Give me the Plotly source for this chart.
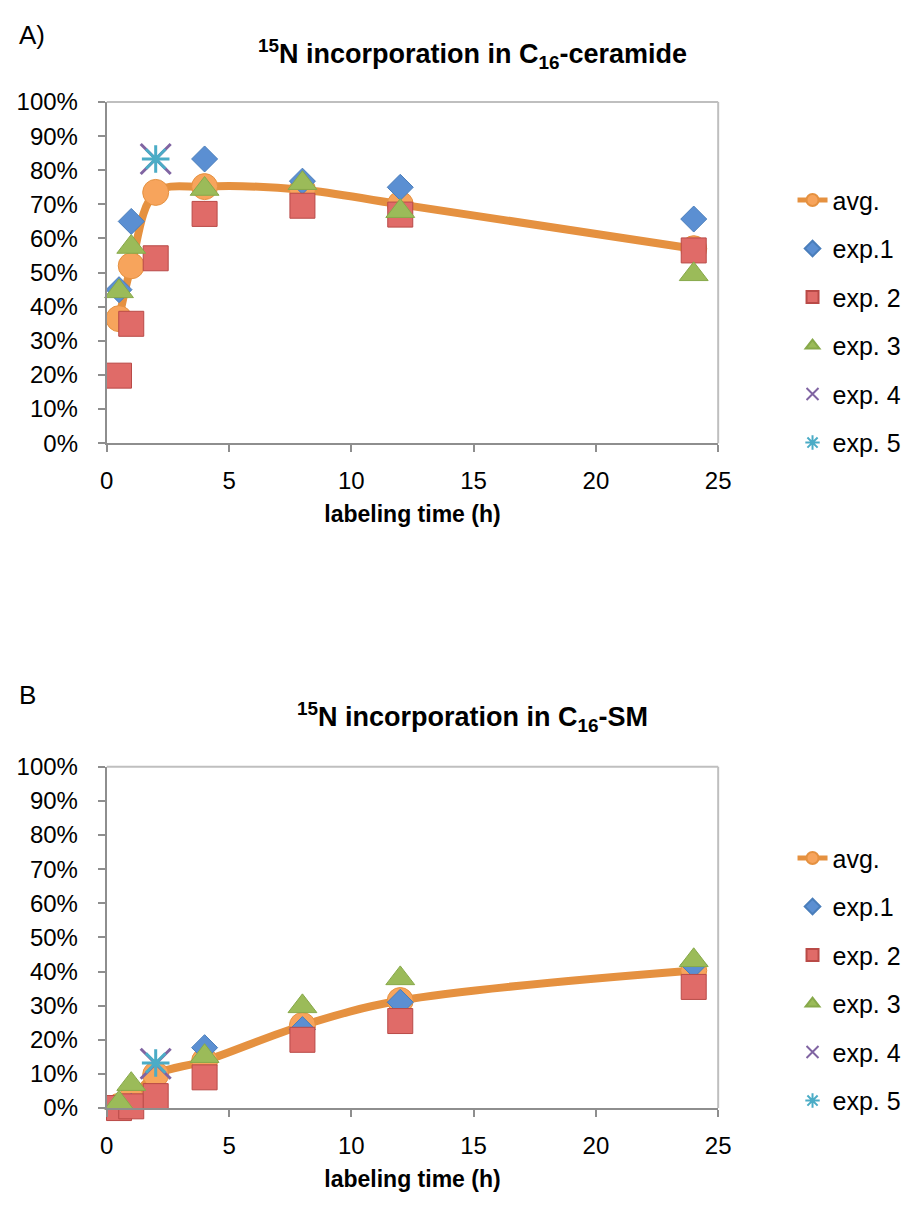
import plotly.graph_objects as go

# ---------------- data ----------------
time_h = [0.5, 1, 2, 4, 8, 12, 24]

cer_avg  = [36.5, 52.0, 73.5, 75.2, 74.3, 70.0, 57.0]
cer_exp1 = [45.0, 65.0, None, 83.3, 76.8, 75.0, 65.7]
cer_exp2 = [19.8, 35.0, 54.2, 67.2, 69.6, 67.0, 56.5]
cer_exp3 = [44.5, 57.5, None, 74.5, 76.2, 68.0, 49.5]
cer_exp4 = [None, None, 83.3, None, None, None, None]
cer_exp5 = [None, None, 83.3, None, None, None, None]

sm_avg  = [0.5, 2.6, 9.8, 13.8, 24.2, 31.5, 40.3]
sm_exp1 = [0.3, 0.5, None, 17.7, 23.0, 31.0, 42.0]
sm_exp2 = [0.0, 0.5, 3.5, 9.0, 20.0, 25.5, 35.5]
sm_exp3 = [1.5, 7.0, None, 15.2, 29.8, 38.0, 43.3]
sm_exp4 = [None, None, 13.0, None, None, None, None]
sm_exp5 = [None, None, 13.2, None, None, None, None]

series_names = ["avg.", "exp.1", "exp. 2", "exp. 3", "exp. 4", "exp. 5"]
x_ticks = [0, 5, 10, 15, 20, 25]
y_ticks = [0, 10, 20, 30, 40, 50, 60, 70, 80, 90, 100]
y_ticktext = [f"{v}%" for v in y_ticks]

# ---------------- styles ----------------
FONT = "Liberation Sans, Arial, sans-serif"
W, H = 919, 1211
ORANGE = "#E59140"
styles = {
    "exp.1": dict(symbol="diamond", size=20, color="#5B8FD2", line=dict(color="#4A7EBB", width=1)),
    "exp. 2": dict(symbol="square", size=25, color="#E06B68", line=dict(color="#B94A47", width=1)),
    "exp. 3": dict(symbol="triangle-up", size=25, color="#9BBB59", line=dict(color="#87A94A", width=1)),
    "exp. 4": dict(symbol="x-thin-open", size=30, color="#8064A2", line=dict(color="#8064A2", width=3)),
    "exp. 5": dict(symbol="asterisk-open", size=23, color="#4BACC6", line=dict(color="#4BACC6", width=3)),
}

fig = go.Figure()

def add_panel(yvals, xa, ya, legend):
    avg, e1, e2, e3, e4, e5 = yvals
    fig.add_trace(go.Scatter(
        x=time_h, y=avg, name=series_names[0], mode="lines+markers",
        line=dict(color=ORANGE, width=8, shape="spline", smoothing=1.0),
        marker=dict(symbol="circle", size=26, color="#F7A45C", line=dict(color=ORANGE, width=1)),
        xaxis=xa, yaxis=ya, legend=legend, legendgroup=legend + "avg", cliponaxis=False))
    for nm, vals in zip(series_names[1:], [e1, e2, e3, e4, e5]):
        st = styles[nm]
        fig.add_trace(go.Scatter(
            x=time_h, y=vals, name=nm, mode="markers",
            marker=dict(symbol=st["symbol"], size=st["size"], color=st["color"], line=st["line"]),
            xaxis=xa, yaxis=ya, legend=legend, legendgroup=legend + nm, cliponaxis=False))

add_panel([cer_avg, cer_exp1, cer_exp2, cer_exp3, cer_exp4, cer_exp5], "x", "y", "legend")
add_panel([sm_avg, sm_exp1, sm_exp2, sm_exp3, sm_exp4, sm_exp5], "x2", "y2", "legend2")

# plot-area geometry (pixels)
px_l, px_r = 102, 727
A_top, A_bot = 90, 439
B_top, B_bot = 770, 1119

def fx(p):
    return p / W

def fy(p):
    return 1 - p / H

axis_common = dict(
    showgrid=False, zeroline=False, showline=True, linecolor="#8E8E8E", linewidth=2,
    ticks="outside", ticklen=7, tickwidth=2, tickcolor="#8E8E8E",
    tickfont=dict(family=FONT, size=24, color="#000000"),
)
xt = dict(text="<b>labeling time (h)</b>", font=dict(family=FONT, size=23), standoff=13)

fig.update_layout(
    width=W, height=H, margin=dict(l=0, r=0, t=0, b=0),
    paper_bgcolor="white", plot_bgcolor="white",
    font=dict(family=FONT, color="#000000"),
    xaxis=dict(domain=[fx(px_l), fx(px_r)], range=[0, 25], tickvals=x_ticks, anchor="y",
               ticklabelstandoff=8, title=xt, **axis_common),
    yaxis=dict(domain=[fy(A_bot), fy(A_top)], range=[0, 100], tickvals=y_ticks, ticktext=y_ticktext,
               ticklabelstandoff=15, anchor="x", **axis_common),
    xaxis2=dict(domain=[fx(px_l), fx(px_r)], range=[0, 25], tickvals=x_ticks, anchor="y2",
                ticklabelstandoff=8, title=xt, **axis_common),
    yaxis2=dict(domain=[fy(B_bot), fy(B_top)], range=[0, 100], tickvals=y_ticks, ticktext=y_ticktext,
                ticklabelstandoff=15, anchor="x2", **axis_common),
    legend=dict(x=fx(803), y=fy(167), xanchor="left", yanchor="top",
                font=dict(family=FONT, size=25), tracegroupgap=13, itemsizing="constant",
                bgcolor="rgba(0,0,0,0)"),
    legend2=dict(x=fx(803), y=fy(840), xanchor="left", yanchor="top",
                 font=dict(family=FONT, size=25), tracegroupgap=13, itemsizing="constant",
                 bgcolor="rgba(0,0,0,0)"),
    showlegend=True,
)

# light plot-area borders (top and right)
for xr, yr in [("x domain", "y domain"), ("x2 domain", "y2 domain")]:
    fig.add_shape(type="line", xref=xr, yref=yr, x0=0, x1=1, y0=1, y1=1,
                  line=dict(color="#BFBFBF", width=2))
    fig.add_shape(type="line", xref=xr, yref=yr, x0=1, x1=1, y0=0, y1=1,
                  line=dict(color="#BFBFBF", width=2))

# titles and panel labels
fig.add_annotation(text="<b><sup>15</sup>N incorporation in C<sub>16</sub>-ceramide</b>",
                   xref="paper", yref="paper", x=fx(476), y=fy(41), xanchor="center", yanchor="middle",
                   showarrow=False, font=dict(family=FONT, size=27))
fig.add_annotation(text="<b><sup>15</sup>N incorporation in C<sub>16</sub>-SM</b>",
                   xref="paper", yref="paper", x=fx(476), y=fy(719), xanchor="center", yanchor="middle",
                   showarrow=False, font=dict(family=FONT, size=27))
fig.add_annotation(text="A)", xref="paper", yref="paper", x=fx(10), y=fy(21),
                   xanchor="left", yanchor="middle", showarrow=False, font=dict(family=FONT, size=26))
fig.add_annotation(text="B", xref="paper", yref="paper", x=fx(10), y=fy(697),
                   xanchor="left", yanchor="middle", showarrow=False, font=dict(family=FONT, size=26))

fig.write_html("out.html", config={"displayModeBar": False},
               post_script="document.body.style.margin='0px';")
